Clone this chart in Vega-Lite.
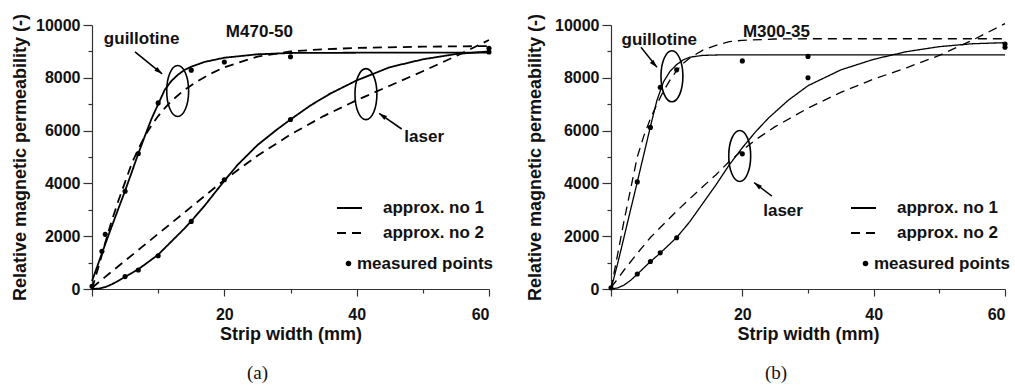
{
  "$schema": "https://vega.github.io/schema/vega-lite/v6.json",
  "background": "white",
  "padding": {"left": 11, "top": 13, "right": 0, "bottom": 0},
  "spacing": 32,
  "config": {
    "view": {"stroke": null},
    "axis": {"grid": false, "domainColor": "#333", "tickColor": "#333", "domainWidth": 1.2, "tickWidth": 1.2,
      "labelFont": "Liberation Sans", "labelFontSize": 16, "labelFontWeight": "bold", "labelColor": "#111",
      "titleFont": "Liberation Sans", "titleFontSize": 18, "titleFontWeight": "bold", "titleColor": "#111"}
  },
  "resolve": {"scale": {"strokeDash": "independent", "shape": "independent"}},
  "datasets": {
    "curves": [
      {"p":"a","cut":"guillotine","kind":"approx. no 1","x":0,"y":300},
      {"p":"a","cut":"guillotine","kind":"approx. no 1","x":1,"y":1000},
      {"p":"a","cut":"guillotine","kind":"approx. no 1","x":2,"y":1700},
      {"p":"a","cut":"guillotine","kind":"approx. no 1","x":3,"y":2380},
      {"p":"a","cut":"guillotine","kind":"approx. no 1","x":4,"y":3050},
      {"p":"a","cut":"guillotine","kind":"approx. no 1","x":5,"y":3720},
      {"p":"a","cut":"guillotine","kind":"approx. no 1","x":6,"y":4420},
      {"p":"a","cut":"guillotine","kind":"approx. no 1","x":7,"y":5130},
      {"p":"a","cut":"guillotine","kind":"approx. no 1","x":8,"y":5800},
      {"p":"a","cut":"guillotine","kind":"approx. no 1","x":9,"y":6450},
      {"p":"a","cut":"guillotine","kind":"approx. no 1","x":10,"y":7000},
      {"p":"a","cut":"guillotine","kind":"approx. no 1","x":11,"y":7550},
      {"p":"a","cut":"guillotine","kind":"approx. no 1","x":12,"y":7880},
      {"p":"a","cut":"guillotine","kind":"approx. no 1","x":13,"y":8120},
      {"p":"a","cut":"guillotine","kind":"approx. no 1","x":14,"y":8300},
      {"p":"a","cut":"guillotine","kind":"approx. no 1","x":15,"y":8420},
      {"p":"a","cut":"guillotine","kind":"approx. no 1","x":17,"y":8600},
      {"p":"a","cut":"guillotine","kind":"approx. no 1","x":20,"y":8760},
      {"p":"a","cut":"guillotine","kind":"approx. no 1","x":25,"y":8890},
      {"p":"a","cut":"guillotine","kind":"approx. no 1","x":30,"y":8940},
      {"p":"a","cut":"guillotine","kind":"approx. no 1","x":40,"y":8950},
      {"p":"a","cut":"guillotine","kind":"approx. no 1","x":60,"y":8950},
      {"p":"a","cut":"guillotine","kind":"approx. no 2","x":0,"y":0},
      {"p":"a","cut":"guillotine","kind":"approx. no 2","x":1,"y":850},
      {"p":"a","cut":"guillotine","kind":"approx. no 2","x":2,"y":1750},
      {"p":"a","cut":"guillotine","kind":"approx. no 2","x":3,"y":2600},
      {"p":"a","cut":"guillotine","kind":"approx. no 2","x":4,"y":3350},
      {"p":"a","cut":"guillotine","kind":"approx. no 2","x":5,"y":4050},
      {"p":"a","cut":"guillotine","kind":"approx. no 2","x":6,"y":4750},
      {"p":"a","cut":"guillotine","kind":"approx. no 2","x":7,"y":5300},
      {"p":"a","cut":"guillotine","kind":"approx. no 2","x":8,"y":5800},
      {"p":"a","cut":"guillotine","kind":"approx. no 2","x":9,"y":6200},
      {"p":"a","cut":"guillotine","kind":"approx. no 2","x":10,"y":6550},
      {"p":"a","cut":"guillotine","kind":"approx. no 2","x":11,"y":6850},
      {"p":"a","cut":"guillotine","kind":"approx. no 2","x":12,"y":7120},
      {"p":"a","cut":"guillotine","kind":"approx. no 2","x":14,"y":7550},
      {"p":"a","cut":"guillotine","kind":"approx. no 2","x":16,"y":7880},
      {"p":"a","cut":"guillotine","kind":"approx. no 2","x":18,"y":8160},
      {"p":"a","cut":"guillotine","kind":"approx. no 2","x":20,"y":8400},
      {"p":"a","cut":"guillotine","kind":"approx. no 2","x":25,"y":8800},
      {"p":"a","cut":"guillotine","kind":"approx. no 2","x":30,"y":9000},
      {"p":"a","cut":"guillotine","kind":"approx. no 2","x":35,"y":9080},
      {"p":"a","cut":"guillotine","kind":"approx. no 2","x":40,"y":9130},
      {"p":"a","cut":"guillotine","kind":"approx. no 2","x":50,"y":9180},
      {"p":"a","cut":"guillotine","kind":"approx. no 2","x":60,"y":9200},
      {"p":"a","cut":"laser","kind":"approx. no 1","x":0,"y":0},
      {"p":"a","cut":"laser","kind":"approx. no 1","x":1,"y":15},
      {"p":"a","cut":"laser","kind":"approx. no 1","x":2,"y":70},
      {"p":"a","cut":"laser","kind":"approx. no 1","x":3,"y":180},
      {"p":"a","cut":"laser","kind":"approx. no 1","x":4,"y":310},
      {"p":"a","cut":"laser","kind":"approx. no 1","x":5,"y":460},
      {"p":"a","cut":"laser","kind":"approx. no 1","x":6,"y":600},
      {"p":"a","cut":"laser","kind":"approx. no 1","x":7,"y":750},
      {"p":"a","cut":"laser","kind":"approx. no 1","x":8,"y":930},
      {"p":"a","cut":"laser","kind":"approx. no 1","x":10,"y":1300},
      {"p":"a","cut":"laser","kind":"approx. no 1","x":12,"y":1800},
      {"p":"a","cut":"laser","kind":"approx. no 1","x":14,"y":2300},
      {"p":"a","cut":"laser","kind":"approx. no 1","x":15,"y":2570},
      {"p":"a","cut":"laser","kind":"approx. no 1","x":17,"y":3150},
      {"p":"a","cut":"laser","kind":"approx. no 1","x":20,"y":4100},
      {"p":"a","cut":"laser","kind":"approx. no 1","x":22,"y":4700},
      {"p":"a","cut":"laser","kind":"approx. no 1","x":25,"y":5450},
      {"p":"a","cut":"laser","kind":"approx. no 1","x":28,"y":6050},
      {"p":"a","cut":"laser","kind":"approx. no 1","x":30,"y":6420},
      {"p":"a","cut":"laser","kind":"approx. no 1","x":33,"y":6950},
      {"p":"a","cut":"laser","kind":"approx. no 1","x":36,"y":7400},
      {"p":"a","cut":"laser","kind":"approx. no 1","x":40,"y":7900},
      {"p":"a","cut":"laser","kind":"approx. no 1","x":45,"y":8400},
      {"p":"a","cut":"laser","kind":"approx. no 1","x":50,"y":8700},
      {"p":"a","cut":"laser","kind":"approx. no 1","x":55,"y":8900},
      {"p":"a","cut":"laser","kind":"approx. no 1","x":60,"y":9000},
      {"p":"a","cut":"laser","kind":"approx. no 2","x":0,"y":50},
      {"p":"a","cut":"laser","kind":"approx. no 2","x":2,"y":460},
      {"p":"a","cut":"laser","kind":"approx. no 2","x":5,"y":1070},
      {"p":"a","cut":"laser","kind":"approx. no 2","x":10,"y":2090},
      {"p":"a","cut":"laser","kind":"approx. no 2","x":15,"y":3110},
      {"p":"a","cut":"laser","kind":"approx. no 2","x":20,"y":4130},
      {"p":"a","cut":"laser","kind":"approx. no 2","x":25,"y":5050},
      {"p":"a","cut":"laser","kind":"approx. no 2","x":30,"y":5850},
      {"p":"a","cut":"laser","kind":"approx. no 2","x":35,"y":6550},
      {"p":"a","cut":"laser","kind":"approx. no 2","x":40,"y":7150},
      {"p":"a","cut":"laser","kind":"approx. no 2","x":45,"y":7700},
      {"p":"a","cut":"laser","kind":"approx. no 2","x":50,"y":8250},
      {"p":"a","cut":"laser","kind":"approx. no 2","x":55,"y":8820},
      {"p":"a","cut":"laser","kind":"approx. no 2","x":60,"y":9430},
      {"p":"a","cut":"guillotine","kind":"measured points","x":0,"y":100},
      {"p":"a","cut":"guillotine","kind":"measured points","x":1.5,"y":1430},
      {"p":"a","cut":"guillotine","kind":"measured points","x":2,"y":2070},
      {"p":"a","cut":"guillotine","kind":"measured points","x":5,"y":3700},
      {"p":"a","cut":"guillotine","kind":"measured points","x":7,"y":5130},
      {"p":"a","cut":"guillotine","kind":"measured points","x":10,"y":7050},
      {"p":"a","cut":"guillotine","kind":"measured points","x":15,"y":8290},
      {"p":"a","cut":"guillotine","kind":"measured points","x":20,"y":8600},
      {"p":"a","cut":"guillotine","kind":"measured points","x":30,"y":8800},
      {"p":"a","cut":"guillotine","kind":"measured points","x":60,"y":8980},
      {"p":"a","cut":"laser","kind":"measured points","x":5,"y":470},
      {"p":"a","cut":"laser","kind":"measured points","x":7,"y":720},
      {"p":"a","cut":"laser","kind":"measured points","x":10,"y":1260},
      {"p":"a","cut":"laser","kind":"measured points","x":15,"y":2560},
      {"p":"a","cut":"laser","kind":"measured points","x":20,"y":4140},
      {"p":"a","cut":"laser","kind":"measured points","x":30,"y":6420},
      {"p":"a","cut":"laser","kind":"measured points","x":60,"y":9120},

      {"p":"b","cut":"guillotine","kind":"approx. no 1","x":0,"y":0},
      {"p":"b","cut":"guillotine","kind":"approx. no 1","x":1,"y":950},
      {"p":"b","cut":"guillotine","kind":"approx. no 1","x":2,"y":1980},
      {"p":"b","cut":"guillotine","kind":"approx. no 1","x":3,"y":3020},
      {"p":"b","cut":"guillotine","kind":"approx. no 1","x":4,"y":4050},
      {"p":"b","cut":"guillotine","kind":"approx. no 1","x":5,"y":5100},
      {"p":"b","cut":"guillotine","kind":"approx. no 1","x":6,"y":6150},
      {"p":"b","cut":"guillotine","kind":"approx. no 1","x":7,"y":7150},
      {"p":"b","cut":"guillotine","kind":"approx. no 1","x":8,"y":7850},
      {"p":"b","cut":"guillotine","kind":"approx. no 1","x":9,"y":8250},
      {"p":"b","cut":"guillotine","kind":"approx. no 1","x":10,"y":8500},
      {"p":"b","cut":"guillotine","kind":"approx. no 1","x":11,"y":8680},
      {"p":"b","cut":"guillotine","kind":"approx. no 1","x":12,"y":8780},
      {"p":"b","cut":"guillotine","kind":"approx. no 1","x":14,"y":8850},
      {"p":"b","cut":"guillotine","kind":"approx. no 1","x":17,"y":8870},
      {"p":"b","cut":"guillotine","kind":"approx. no 1","x":60,"y":8870},
      {"p":"b","cut":"guillotine","kind":"approx. no 2","x":0,"y":0},
      {"p":"b","cut":"guillotine","kind":"approx. no 2","x":1,"y":1300},
      {"p":"b","cut":"guillotine","kind":"approx. no 2","x":2,"y":2600},
      {"p":"b","cut":"guillotine","kind":"approx. no 2","x":3,"y":3800},
      {"p":"b","cut":"guillotine","kind":"approx. no 2","x":4,"y":5000},
      {"p":"b","cut":"guillotine","kind":"approx. no 2","x":5,"y":5800},
      {"p":"b","cut":"guillotine","kind":"approx. no 2","x":6,"y":6450},
      {"p":"b","cut":"guillotine","kind":"approx. no 2","x":7,"y":7000},
      {"p":"b","cut":"guillotine","kind":"approx. no 2","x":8,"y":7500},
      {"p":"b","cut":"guillotine","kind":"approx. no 2","x":9,"y":7920},
      {"p":"b","cut":"guillotine","kind":"approx. no 2","x":10,"y":8270},
      {"p":"b","cut":"guillotine","kind":"approx. no 2","x":11,"y":8550},
      {"p":"b","cut":"guillotine","kind":"approx. no 2","x":12,"y":8750},
      {"p":"b","cut":"guillotine","kind":"approx. no 2","x":14,"y":9050},
      {"p":"b","cut":"guillotine","kind":"approx. no 2","x":16,"y":9230},
      {"p":"b","cut":"guillotine","kind":"approx. no 2","x":18,"y":9370},
      {"p":"b","cut":"guillotine","kind":"approx. no 2","x":20,"y":9420},
      {"p":"b","cut":"guillotine","kind":"approx. no 2","x":25,"y":9470},
      {"p":"b","cut":"guillotine","kind":"approx. no 2","x":30,"y":9480},
      {"p":"b","cut":"guillotine","kind":"approx. no 2","x":60,"y":9480},
      {"p":"b","cut":"laser","kind":"approx. no 1","x":0,"y":0},
      {"p":"b","cut":"laser","kind":"approx. no 1","x":1,"y":40},
      {"p":"b","cut":"laser","kind":"approx. no 1","x":2,"y":150},
      {"p":"b","cut":"laser","kind":"approx. no 1","x":3,"y":330},
      {"p":"b","cut":"laser","kind":"approx. no 1","x":4,"y":560},
      {"p":"b","cut":"laser","kind":"approx. no 1","x":5,"y":800},
      {"p":"b","cut":"laser","kind":"approx. no 1","x":6,"y":1040},
      {"p":"b","cut":"laser","kind":"approx. no 1","x":7,"y":1250},
      {"p":"b","cut":"laser","kind":"approx. no 1","x":8,"y":1480},
      {"p":"b","cut":"laser","kind":"approx. no 1","x":10,"y":1950},
      {"p":"b","cut":"laser","kind":"approx. no 1","x":12,"y":2550},
      {"p":"b","cut":"laser","kind":"approx. no 1","x":14,"y":3250},
      {"p":"b","cut":"laser","kind":"approx. no 1","x":16,"y":3950},
      {"p":"b","cut":"laser","kind":"approx. no 1","x":18,"y":4700},
      {"p":"b","cut":"laser","kind":"approx. no 1","x":20,"y":5350},
      {"p":"b","cut":"laser","kind":"approx. no 1","x":22,"y":5950},
      {"p":"b","cut":"laser","kind":"approx. no 1","x":24,"y":6480},
      {"p":"b","cut":"laser","kind":"approx. no 1","x":27,"y":7150},
      {"p":"b","cut":"laser","kind":"approx. no 1","x":30,"y":7700},
      {"p":"b","cut":"laser","kind":"approx. no 1","x":35,"y":8300},
      {"p":"b","cut":"laser","kind":"approx. no 1","x":40,"y":8700},
      {"p":"b","cut":"laser","kind":"approx. no 1","x":45,"y":8990},
      {"p":"b","cut":"laser","kind":"approx. no 1","x":50,"y":9180},
      {"p":"b","cut":"laser","kind":"approx. no 1","x":55,"y":9290},
      {"p":"b","cut":"laser","kind":"approx. no 1","x":60,"y":9330},
      {"p":"b","cut":"laser","kind":"approx. no 2","x":0,"y":50},
      {"p":"b","cut":"laser","kind":"approx. no 2","x":1,"y":380},
      {"p":"b","cut":"laser","kind":"approx. no 2","x":2,"y":720},
      {"p":"b","cut":"laser","kind":"approx. no 2","x":4,"y":1350},
      {"p":"b","cut":"laser","kind":"approx. no 2","x":6,"y":1950},
      {"p":"b","cut":"laser","kind":"approx. no 2","x":8,"y":2450},
      {"p":"b","cut":"laser","kind":"approx. no 2","x":10,"y":2950},
      {"p":"b","cut":"laser","kind":"approx. no 2","x":12,"y":3420},
      {"p":"b","cut":"laser","kind":"approx. no 2","x":14,"y":3880},
      {"p":"b","cut":"laser","kind":"approx. no 2","x":16,"y":4330},
      {"p":"b","cut":"laser","kind":"approx. no 2","x":18,"y":4830},
      {"p":"b","cut":"laser","kind":"approx. no 2","x":20,"y":5250},
      {"p":"b","cut":"laser","kind":"approx. no 2","x":22,"y":5650},
      {"p":"b","cut":"laser","kind":"approx. no 2","x":25,"y":6150},
      {"p":"b","cut":"laser","kind":"approx. no 2","x":30,"y":6850},
      {"p":"b","cut":"laser","kind":"approx. no 2","x":35,"y":7450},
      {"p":"b","cut":"laser","kind":"approx. no 2","x":40,"y":7950},
      {"p":"b","cut":"laser","kind":"approx. no 2","x":45,"y":8380},
      {"p":"b","cut":"laser","kind":"approx. no 2","x":50,"y":8850},
      {"p":"b","cut":"laser","kind":"approx. no 2","x":55,"y":9420},
      {"p":"b","cut":"laser","kind":"approx. no 2","x":60,"y":10050},
      {"p":"b","cut":"guillotine","kind":"measured points","x":0,"y":50},
      {"p":"b","cut":"guillotine","kind":"measured points","x":4,"y":4056},
      {"p":"b","cut":"guillotine","kind":"measured points","x":6,"y":6122},
      {"p":"b","cut":"guillotine","kind":"measured points","x":7.5,"y":7643},
      {"p":"b","cut":"guillotine","kind":"measured points","x":10,"y":8302},
      {"p":"b","cut":"guillotine","kind":"measured points","x":20,"y":8640},
      {"p":"b","cut":"guillotine","kind":"measured points","x":30,"y":8810},
      {"p":"b","cut":"guillotine","kind":"measured points","x":60,"y":9280},
      {"p":"b","cut":"laser","kind":"measured points","x":4,"y":570},
      {"p":"b","cut":"laser","kind":"measured points","x":6,"y":1040},
      {"p":"b","cut":"laser","kind":"measured points","x":7.5,"y":1369},
      {"p":"b","cut":"laser","kind":"measured points","x":10,"y":1939},
      {"p":"b","cut":"laser","kind":"measured points","x":20,"y":5120},
      {"p":"b","cut":"laser","kind":"measured points","x":30,"y":8000},
      {"p":"b","cut":"laser","kind":"measured points","x":60,"y":9160}
    ],
    "notes": [
      {"p":"a","type":"text","label":"guillotine","x":7.5,"y":9460},
      {"p":"a","type":"text","label":"M470-50","x":25.3,"y":9730},
      {"p":"a","type":"text","label":"laser","x":50.2,"y":5740},
      {"p":"a","type":"ellipse","x":12.95,"y":7500},
      {"p":"a","type":"ellipse","x":41.4,"y":7380},
      {"p":"a","type":"arrow","id":"ag","x":10.6,"y":8150,"x2":6.5,"y2":8980},
      {"p":"a","type":"arrow","id":"al","x":43.4,"y":6650,"x2":46.8,"y2":6060},
      {"p":"b","type":"text","label":"guillotine","x":7.35,"y":9450},
      {"p":"b","type":"text","label":"M300-35","x":25.2,"y":9730},
      {"p":"b","type":"text","label":"laser","x":26.2,"y":2950},
      {"p":"b","type":"ellipse","x":9.28,"y":8056},
      {"p":"b","type":"ellipse","x":19.6,"y":5040},
      {"p":"b","type":"arrow","id":"bg","x":7.0,"y":8400,"x2":4.56,"y2":9158},
      {"p":"b","type":"arrow","id":"bl","x":21.8,"y":4030,"x2":24.5,"y2":3520}
    ]
  },
  "hconcat": [
    {
      "width": 397, "height": 264,
      "title": {"text": "(a)", "orient": "bottom", "font": "Liberation Serif", "fontSize": 19, "fontWeight": "normal", "color": "#111", "dx": -33, "offset": 21},
      "encoding": {
        "x": {"field": "x", "type": "quantitative", "title": "Strip width (mm)",
          "scale": {"domain": [0, 60], "nice": false},
          "axis": {"values": [0,10,20,30,40,50,60], "labelExpr": "datum.value % 20 === 0 && datum.value > 0 ? datum.label : ''",
            "tickSize": {"condition": {"test": "datum.value % 20 !== 0", "value": 4}, "value": 7}, "labelPadding": 10, "titlePadding": 3}},
        "y": {"field": "y", "type": "quantitative", "title": "Relative magnetic permeability (-)",
          "scale": {"domain": [0, 10000], "nice": false},
          "axis": {"values": [0,1000,2000,3000,4000,5000,6000,7000,8000,9000,10000], "format": "d",
            "labelExpr": "datum.value % 2000 === 0 ? datum.label : ''",
            "tickSize": {"condition": {"test": "datum.value % 2000 !== 0", "value": 4}, "value": 9}, "labelPadding": 3, "titlePadding": 6}}
      },
      "layer": [
        {"data": {"name": "curves"}, "transform": [{"filter": "datum.p === 'a' && datum.kind !== 'measured points'"}],
         "mark": {"type": "line", "strokeWidth": 1.8, "color": "black"},
         "encoding": {
           "detail": {"field": "cut", "type": "nominal"},
           "strokeDash": {"field": "kind", "type": "nominal",
             "scale": {"domain": ["approx. no 1", "approx. no 2"], "range": [[1,0],[9,6]]},
             "legend": {"orient": "none", "legendX": 244, "legendY": 169.5, "title": null, "padding": 0, "symbolType": "stroke", "symbolSize": 625,
               "labelFont": "Liberation Sans", "labelFontSize": 17, "labelFontWeight": "bold", "labelColor": "#111", "labelOffset": 20, "rowPadding": 3,
               "symbolStrokeWidth": 1.8, "symbolStrokeColor": "black"}}
         }},
        {"data": {"name": "curves"}, "transform": [{"filter": "datum.p === 'a' && datum.kind === 'measured points'"}],
         "mark": {"type": "point", "filled": true, "color": "black", "opacity": 1, "size": 26},
         "encoding": {
           "shape": {"field": "kind", "type": "nominal",
             "scale": {"domain": ["measured points"], "range": ["circle"]},
             "legend": {"orient": "none", "legendX": 248, "legendY": 230, "title": null, "padding": 0, "symbolSize": 30,
               "labelFont": "Liberation Sans", "labelFontSize": 17, "labelFontWeight": "bold", "labelColor": "#111", "labelOffset": 0,
               "symbolFillColor": "black", "symbolStrokeWidth": 0}}
         }},
        {"data": {"name": "notes"}, "transform": [{"filter": "datum.p === 'a' && datum.type === 'text'"}],
         "mark": {"type": "text", "font": "Liberation Sans", "fontSize": 17, "fontWeight": "bold", "color": "#111", "align": "center", "baseline": "middle"},
         "encoding": {"text": {"field": "label"}}},
        {"data": {"name": "notes"}, "transform": [{"filter": "datum.p === 'a' && datum.type === 'ellipse'"}],
         "mark": {"type": "point", "shape": "M0,-1A0.43,1,0,1,1,0,1A0.43,1,0,1,1,0,-1Z", "size": 2601, "filled": false, "stroke": "black", "strokeWidth": 1.6, "opacity": 1}},
        {"data": {"name": "notes"}, "transform": [{"filter": "datum.p === 'a' && datum.type === 'arrow'"}],
         "mark": {"type": "rule", "color": "black", "strokeWidth": 1.6},
         "encoding": {"x2": {"field": "x2"}, "y2": {"field": "y2"}}},
        {"data": {"name": "notes"}, "transform": [{"filter": "datum.id === 'ag'"}],
         "mark": {"type": "point", "shape": "M0,0L0.6,2L-0.6,2Z", "size": 64, "filled": true, "color": "black", "opacity": 1, "angle": 128}},
        {"data": {"name": "notes"}, "transform": [{"filter": "datum.id === 'al'"}],
         "mark": {"type": "point", "shape": "M0,0L0.6,2L-0.6,2Z", "size": 64, "filled": true, "color": "black", "opacity": 1, "angle": 305}}
      ]
    },
    {
      "width": 394, "height": 264,
      "title": {"text": "(b)", "orient": "bottom", "font": "Liberation Serif", "fontSize": 19, "fontWeight": "normal", "color": "#111", "dx": -32, "offset": 21},
      "encoding": {
        "x": {"field": "x", "type": "quantitative", "title": "Strip width (mm)",
          "scale": {"domain": [0, 60], "nice": false},
          "axis": {"values": [0,10,20,30,40,50,60], "labelExpr": "datum.value % 20 === 0 && datum.value > 0 ? datum.label : ''",
            "tickSize": {"condition": {"test": "datum.value % 20 !== 0", "value": 4}, "value": 7}, "labelPadding": 10, "titlePadding": 3}},
        "y": {"field": "y", "type": "quantitative", "title": "Relative magnetic permeability (-)",
          "scale": {"domain": [0, 10000], "nice": false},
          "axis": {"values": [0,1000,2000,3000,4000,5000,6000,7000,8000,9000,10000], "format": "d",
            "labelExpr": "datum.value % 2000 === 0 ? datum.label : ''",
            "tickSize": {"condition": {"test": "datum.value % 2000 !== 0", "value": 4}, "value": 9}, "labelPadding": 3, "titlePadding": 10}}
      },
      "layer": [
        {"data": {"name": "curves"}, "transform": [{"filter": "datum.p === 'b' && datum.kind !== 'measured points'"}],
         "mark": {"type": "line", "strokeWidth": 1.3, "color": "black"},
         "encoding": {
           "detail": {"field": "cut", "type": "nominal"},
           "strokeDash": {"field": "kind", "type": "nominal",
             "scale": {"domain": ["approx. no 1", "approx. no 2"], "range": [[1,0],[9,6]]},
             "legend": {"orient": "none", "legendX": 239, "legendY": 169.5, "title": null, "padding": 0, "symbolType": "stroke", "symbolSize": 625,
               "labelFont": "Liberation Sans", "labelFontSize": 17, "labelFontWeight": "bold", "labelColor": "#111", "labelOffset": 20, "rowPadding": 3,
               "symbolStrokeWidth": 1.8, "symbolStrokeColor": "black"}}
         }},
        {"data": {"name": "curves"}, "transform": [{"filter": "datum.p === 'b' && datum.kind === 'measured points'"}],
         "mark": {"type": "point", "filled": true, "color": "black", "opacity": 1, "size": 26},
         "encoding": {
           "shape": {"field": "kind", "type": "nominal",
             "scale": {"domain": ["measured points"], "range": ["circle"]},
             "legend": {"orient": "none", "legendX": 246, "legendY": 230, "title": null, "padding": 0, "symbolSize": 30,
               "labelFont": "Liberation Sans", "labelFontSize": 17, "labelFontWeight": "bold", "labelColor": "#111", "labelOffset": 0,
               "symbolFillColor": "black", "symbolStrokeWidth": 0}}
         }},
        {"data": {"name": "notes"}, "transform": [{"filter": "datum.p === 'b' && datum.type === 'text'"}],
         "mark": {"type": "text", "font": "Liberation Sans", "fontSize": 17, "fontWeight": "bold", "color": "#111", "align": "center", "baseline": "middle"},
         "encoding": {"text": {"field": "label"}}},
        {"data": {"name": "notes"}, "transform": [{"filter": "datum.p === 'b' && datum.type === 'ellipse'"}],
         "mark": {"type": "point", "shape": "M0,-1A0.43,1,0,1,1,0,1A0.43,1,0,1,1,0,-1Z", "size": 2601, "filled": false, "stroke": "black", "strokeWidth": 1.6, "opacity": 1}},
        {"data": {"name": "notes"}, "transform": [{"filter": "datum.p === 'b' && datum.type === 'arrow'"}],
         "mark": {"type": "rule", "color": "black", "strokeWidth": 1.4},
         "encoding": {"x2": {"field": "x2"}, "y2": {"field": "y2"}}},
        {"data": {"name": "notes"}, "transform": [{"filter": "datum.id === 'bg'"}],
         "mark": {"type": "point", "shape": "M0,0L0.6,2L-0.6,2Z", "size": 64, "filled": true, "color": "black", "opacity": 1, "angle": 138}},
        {"data": {"name": "notes"}, "transform": [{"filter": "datum.id === 'bl'"}],
         "mark": {"type": "point", "shape": "M0,0L0.6,2L-0.6,2Z", "size": 64, "filled": true, "color": "black", "opacity": 1, "angle": 308}}
      ]
    }
  ]
}
